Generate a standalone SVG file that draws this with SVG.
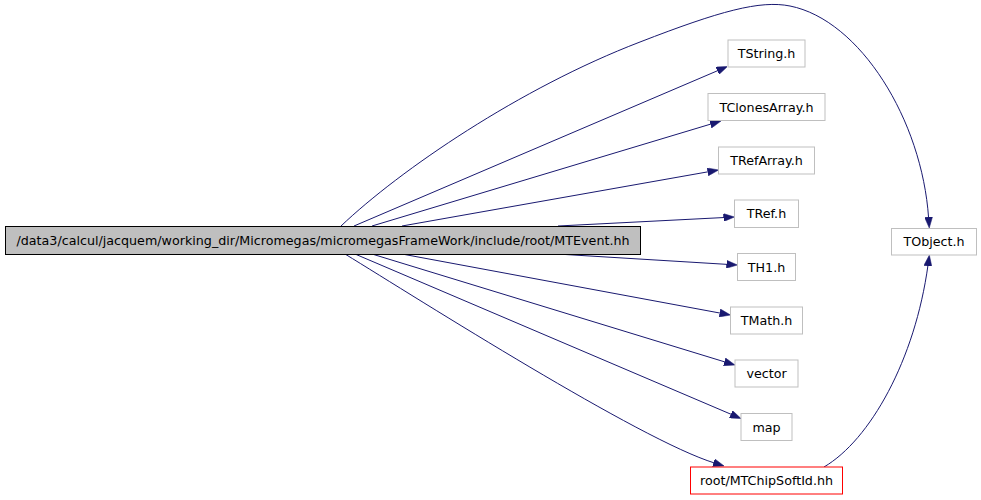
<svg xmlns="http://www.w3.org/2000/svg" width="981" height="500" viewBox="0 0 981 500">
<style>
.node rect{fill:#ffffff;stroke:#bfbfbf;stroke-width:1}
.node text{font-family:"DejaVu Sans",sans-serif;font-size:12.7px;fill:#000000;text-anchor:middle}
#main rect{fill:#bfbfbf;stroke:#000000}
#mtchip rect{stroke:#ff0000}
.edge{fill:none;stroke:#191970;stroke-width:1;marker-end:url(#arr)}
</style>
<defs>
<marker id="arr" markerUnits="userSpaceOnUse" viewBox="0 0 11 8" refX="1" refY="4" markerWidth="11" markerHeight="8" orient="auto">
<path d="M0,0 L11,4 L0,8 z" fill="#191970" stroke="#191970" stroke-width="0.5"/>
</marker>
</defs>
<rect width="981" height="500" fill="#ffffff"/>
<g id="edges">
<path class="edge" d="M341,226 C400,170 520,88 640,42 C720,11 760,0 790,6 C860,20 922,120 928.6,218"/>
<path class="edge" d="M354,226 L718.3,70.4"/>
<path class="edge" d="M372,226 L711.4,123.9"/>
<path class="edge" d="M402,226 L708.7,171.7"/>
<path class="edge" d="M558,226 L724.5,217.5"/>
<path class="edge" d="M557,254 L727.5,264.4"/>
<path class="edge" d="M402,254 L720.7,313.2"/>
<path class="edge" d="M372,254 L725.4,362.1"/>
<path class="edge" d="M355,254 L731.8,414.6"/>
<path class="edge" d="M345,254 C420,300 640,440 714.5,463"/>
<path class="edge" d="M824,467 C870,440 915,360 928,265"/>
</g>
<g id="main" class="node"><rect x="5.5" y="226.5" width="635" height="28"/><text x="323" y="245">/data3/calcul/jacquem/working_dir/Micromegas/micromegasFrameWork/include/root/MTEvent.hh</text></g>
<g id="tstring" class="node"><rect x="728" y="40" width="77" height="27"/><text x="766.5" y="58">TString.h</text></g>
<g id="tclonesarray" class="node"><rect x="708" y="93.5" width="117" height="27"/><text x="766.5" y="111.5">TClonesArray.h</text></g>
<g id="trefarray" class="node"><rect x="718.5" y="147" width="96" height="27"/><text x="766.5" y="165">TRefArray.h</text></g>
<g id="tref" class="node"><rect x="734.5" y="200" width="64" height="27.5"/><text x="766.5" y="218">TRef.h</text></g>
<g id="th1" class="node"><rect x="737.5" y="253.5" width="58" height="27"/><text x="766.5" y="271.5">TH1.h</text></g>
<g id="tmath" class="node"><rect x="730.5" y="307" width="72" height="27"/><text x="766.5" y="325">TMath.h</text></g>
<g id="vector" class="node"><rect x="735" y="360" width="63" height="27"/><text x="766.5" y="378">vector</text></g>
<g id="map" class="node"><rect x="741" y="413.5" width="51" height="27"/><text x="766.5" y="431.5">map</text></g>
<g id="mtchip" class="node"><rect x="690.5" y="467" width="152" height="27"/><text x="766.5" y="485">root/MTChipSoftId.hh</text></g>
<g id="tobject" class="node"><rect x="891.5" y="228.5" width="85" height="26.5"/><text x="934" y="246">TObject.h</text></g>
</svg>
